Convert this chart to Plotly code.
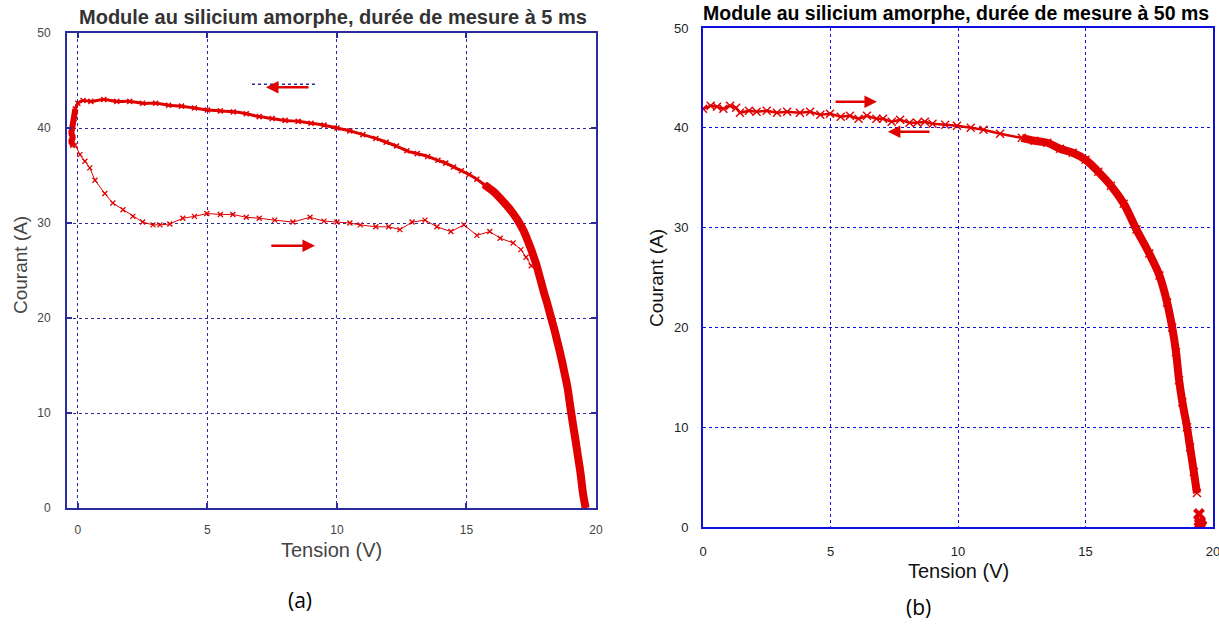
import plotly.graph_objects as go

W, H = 1219, 626

# ---------------- Data: panel (a) 5 ms ----------------
# reverse sweep (Voc -> 0), upper branch
va_up = [19.6, 19.5, 19.4, 19.3, 19.2, 19.1, 19.0, 18.9, 18.8, 18.7, 18.6, 18.5, 18.4, 18.3,
         18.2, 18.1, 18.0, 17.9, 17.8, 17.7, 17.6, 17.5, 17.4, 17.2, 17.0, 16.8, 16.6, 16.4,
         16.2, 16.0, 15.7, 15.4, 15.1, 14.8, 14.5, 14.2, 13.9, 13.5, 13.1, 12.7, 12.3, 11.9,
         11.5, 11.0, 10.5, 10.0, 9.5, 9.0, 8.5, 8.0, 7.5, 7.0, 6.5, 6.0, 5.5, 5.0, 4.5, 4.0,
         3.5, 3.0, 2.5, 2.0, 1.5, 1.0, 0.5, 0.2, 0.0, -0.1, -0.15, -0.2, -0.25, -0.2, -0.25, -0.2]
ia_up = [0.0, 1.5, 3.7, 5.5, 7.3, 9.0, 10.8, 12.7, 14.0, 15.3, 16.5, 17.6, 18.7, 19.7,
         20.7, 21.7, 22.6, 23.6, 24.6, 25.6, 26.4, 27.2, 27.9, 29.2, 30.2, 31.0, 31.7, 32.3,
         32.9, 33.4, 34.0, 34.6, 35.1, 35.5, 35.9, 36.3, 36.6, 37.0, 37.3, 37.6, 38.1, 38.5,
         38.9, 39.3, 39.7, 40.0, 40.3, 40.5, 40.7, 40.8, 41.0, 41.2, 41.5, 41.7, 41.8, 41.9, 42.1, 42.3,
         42.4, 42.6, 42.6, 42.8, 42.8, 43.0, 42.8, 42.9, 42.6, 42.0, 41.0, 40.2, 39.5, 39.0, 38.6, 38.2]
# forward sweep (0 -> Voc), lower branch
va_lo = [-0.1, 0.08, 0.27, 0.46, 0.66, 1.04, 1.35, 1.74, 2.12, 2.5, 2.9, 3.17, 3.55, 4.05,
         4.5, 4.98, 5.5, 5.98, 6.5, 7.0, 7.6, 8.3, 8.96, 9.5, 10.0, 10.5, 10.9, 11.5, 12.0,
         12.43, 12.9, 13.4, 13.86, 14.4, 14.9, 15.4, 15.9, 16.3, 16.8, 17.1, 17.3, 17.5]
ia_lo = [38.2, 37.2, 36.5, 35.8, 34.5, 33.1, 32.1, 31.4, 30.7, 30.1, 29.8, 29.8, 29.9, 30.5,
         30.7, 31.0, 30.9, 30.9, 30.6, 30.5, 30.3, 30.1, 30.6, 30.2, 30.1, 30.0, 29.8, 29.6, 29.6,
         29.3, 30.1, 30.3, 29.6, 29.1, 29.8, 28.7, 29.1, 28.4, 27.9, 27.2, 26.4, 25.5]

# ---------------- Data: panel (b) 50 ms ----------------
vb = [0.0, 0.3, 0.55, 0.8, 1.06, 1.3, 1.45, 1.8, 2.1, 2.5, 2.9, 3.3, 3.8, 4.2, 4.6, 4.98,
      5.4, 5.76, 6.1, 6.43, 6.8, 7.06, 7.4, 7.73, 8.1, 8.4, 8.7, 9.0, 9.5, 9.96, 10.5, 11.0,
      11.65, 12.5, 13.0, 13.5, 14.0, 14.5, 15.0, 15.5, 16.0, 16.5, 17.0, 17.5, 17.9, 18.2,
      18.4, 18.55, 18.67, 18.8, 18.98, 19.1, 19.25, 19.37]
ib = [41.9, 42.2, 42.1, 41.9, 42.2, 42.0, 41.5, 41.7, 41.6, 41.7, 41.5, 41.6, 41.5, 41.6, 41.3, 41.4,
      41.1, 41.2, 40.9, 41.2, 40.9, 40.9, 40.6, 40.8, 40.5, 40.5, 40.6, 40.4, 40.3, 40.2, 40.0, 39.8,
      39.4, 39.0, 38.7, 38.5, 37.9, 37.5, 36.8, 35.6, 34.2, 32.4, 29.8, 27.4, 25.2, 22.5,
      20.0, 17.5, 14.7, 12.5, 10.0, 8.0, 5.5, 3.4]
vb_end = [19.45, 19.5, 19.52, 19.48, 19.55, 19.5, 19.47]
ib_end = [1.3, 0.5, 0.2, 0.3, 0.1, 0.0, 0.6]

xticks = [0, 5, 10, 15, 20]
yticks = [0, 10, 20, 30, 40, 50]

RED = "#e00000"
NAVY = "#2b2b9c"
BLUE = "#1010dd"

fig = go.Figure()

# panel (a)
thick_a = [i for i, v in enumerate(va_up) if v >= 15.5]
fig.add_trace(go.Scatter(x=[va_up[i] for i in thick_a], y=[ia_up[i] for i in thick_a],
                         mode="lines", line=dict(color=RED, width=8, shape="spline"),
                         xaxis="x", yaxis="y", hoverinfo="skip"))
stub_a = [i for i, v in enumerate(va_up) if v <= -0.1]
fig.add_trace(go.Scatter(x=[va_up[i] for i in stub_a], y=[ia_up[i] for i in stub_a],
                         mode="lines", line=dict(color=RED, width=6),
                         xaxis="x", yaxis="y", hoverinfo="skip"))
fig.add_trace(go.Scatter(x=va_up, y=ia_up, mode="lines+markers",
                         line=dict(color=RED, width=3, shape="spline"),
                         marker=dict(symbol="x-thin", size=5, line=dict(color=RED, width=1.5)),
                         xaxis="x", yaxis="y"))
fig.add_trace(go.Scatter(x=va_lo, y=ia_lo, mode="lines+markers",
                         line=dict(color=RED, width=1),
                         marker=dict(symbol="x-thin", size=5, line=dict(color=RED, width=1.3)),
                         xaxis="x", yaxis="y"))

# panel (b)
thick_b = [i for i, v in enumerate(vb) if v >= 12.5]
fig.add_trace(go.Scatter(x=[vb[i] for i in thick_b], y=[ib[i] for i in thick_b],
                         mode="lines", line=dict(color=RED, width=8, shape="spline"),
                         xaxis="x2", yaxis="y2", hoverinfo="skip"))
fig.add_trace(go.Scatter(x=vb, y=ib, mode="lines+markers",
                         line=dict(color=RED, width=2.5),
                         marker=dict(symbol="x-thin", size=8, line=dict(color=RED, width=1.4)),
                         xaxis="x2", yaxis="y2"))
fig.add_trace(go.Scatter(x=vb_end, y=ib_end, mode="markers",
                         marker=dict(symbol="x-thin", size=9, line=dict(color=RED, width=4)),
                         xaxis="x2", yaxis="y2"))

def px_x(p):
    return p / W

def px_y(p):
    return 1 - p / H

ax_a = dict(showline=True, linecolor=NAVY, linewidth=2, mirror="ticks",
            ticks="inside", ticklen=5, tickcolor=NAVY, tickwidth=1.5,
            showgrid=True, gridcolor=NAVY, griddash="dot", gridwidth=1.3,
            zeroline=False, automargin=False,
            tickfont=dict(family="Liberation Sans", size=12, color="#444"))
ax_b = dict(showline=True, linecolor=BLUE, linewidth=2, mirror=True,
            ticks="", showgrid=True, gridcolor=BLUE, griddash="dot", gridwidth=1,
            zeroline=False, automargin=False,
            tickfont=dict(family="Liberation Sans", size=13, color="#222"))

fig.update_layout(
    width=W, height=H, margin=dict(l=0, r=0, t=0, b=0, autoexpand=False),
    paper_bgcolor="white", plot_bgcolor="white", showlegend=False,
    xaxis=dict(ax_a, domain=[px_x(67), px_x(596)], range=[-0.42, 20], tickvals=xticks,
               ticklabelstandoff=10, anchor="y"),
    yaxis=dict(ax_a, domain=[px_y(508), px_y(33)], range=[0, 50], tickvals=yticks,
               ticklabelstandoff=12, anchor="x"),
    xaxis2=dict(ax_b, domain=[px_x(703), px_x(1213)], range=[0, 20], tickvals=xticks,
                ticklabelstandoff=11, anchor="y2", ticklabeloverflow="allow"),
    yaxis2=dict(ax_b, domain=[px_y(527), px_y(28)], range=[0, 50], tickvals=yticks,
                ticklabelstandoff=10, anchor="x2"),
)

# dotted navy segment (legend-like) in panel (a)
fig.add_shape(type="line", xref="x", yref="y", x0=6.72, x1=9.27, y0=44.6, y1=44.6,
              line=dict(color=NAVY, width=1.5, dash="dot"))

# arrows
def arrow(xr, yr, x0, y0, x1, y1):
    fig.add_annotation(xref=xr, yref=yr, axref=xr, ayref=yr, x=x1, y=y1, ax=x0, ay=y0,
                       text="", showarrow=True, arrowhead=2, arrowsize=1, arrowwidth=2.5,
                       arrowcolor=RED)

arrow("x", "y", 8.96, 44.3, 7.26, 44.3)
arrow("x", "y", 7.41, 27.6, 9.15, 27.6)
arrow("x2", "y2", 5.14, 42.6, 6.82, 42.6)
arrow("x2", "y2", 8.94, 39.6, 7.25, 39.6)

def text(s, x, y, size, color="#000", bold=False, angle=0, family="Liberation Sans"):
    fig.add_annotation(xref="paper", yref="paper", x=px_x(x), y=px_y(y),
                       text=("<b>%s</b>" % s) if bold else s,
                       showarrow=False, xanchor="center", yanchor="middle", textangle=angle,
                       font=dict(family=family, size=size, color=color))

text("Module au silicium amorphe, durée de mesure à 5 ms", 333, 17, 20, "#333", bold=True)
text("Module au silicium amorphe, durée de mesure à 50 ms", 956, 13, 19.5, "#000", bold=True)
text("Tension (V)", 331, 550, 20, "#444")
text("Tension (V)", 958, 571, 20, "#111")
text("Courant (A)", 20, 265, 19, "#444", angle=-90)
text("Courant (A)", 656, 278, 19, "#111", angle=-90)
text("(a)", 300, 600, 21, "#000", family="Open Sans")
text("(b)", 918, 607, 21, "#000", family="Open Sans")

fig.write_html("out.html", config={"displayModeBar": False},
               post_script="document.body.style.margin='0';document.body.style.overflow='hidden';")
